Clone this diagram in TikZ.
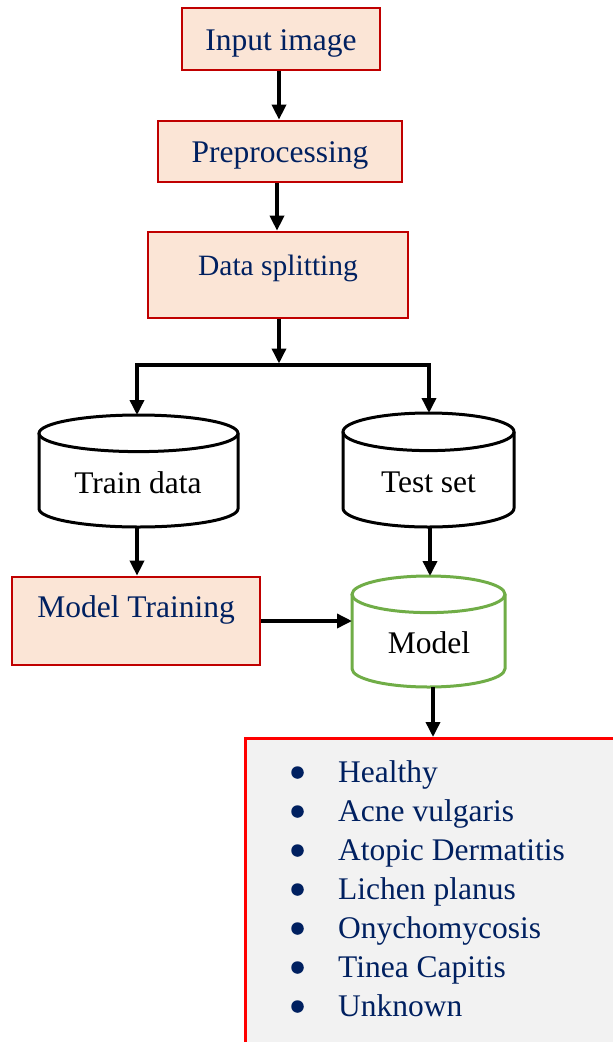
\documentclass[tikz,border=0pt]{standalone}
\usepackage{fontspec}
\setmainfont{Liberation Serif}
\usetikzlibrary{arrows.meta, calc}

\definecolor{peach}{HTML}{FBE5D6}
\definecolor{boxred}{HTML}{C00000}
\definecolor{listred}{HTML}{FF0000}
\definecolor{navy}{HTML}{002060}
\definecolor{listfill}{HTML}{F2F2F2}
\definecolor{modelgreen}{HTML}{70AD47}

\tikzset{
  flow/.style={line width=3.5pt, line join=miter, -{Triangle[width=14pt,length=15pt]}},
  procbox/.style={rectangle, draw=boxred, fill=peach, line width=2.7pt, inner sep=0pt},
  proctext/.style={anchor=base, inner sep=0pt, text=navy, font=\fontsize{31.5}{38}\selectfont},
  drumtext/.style={anchor=base, inner sep=0pt, text=black, font=\fontsize{31.5}{38}\selectfont},
  drumline/.style={line width=3pt},
  listbox/.style={rectangle, draw=listred, fill=listfill, line width=2.7pt, inner sep=0pt},
  listtext/.style={anchor=base west, inner sep=0pt, text=navy, font=\fontsize{31.5}{38}\selectfont},
  listdot/.style={circle, fill=navy, minimum size=12.5pt, inner sep=0pt},
}

% a drum (cylinder): #1 colour, #2 centre x, #3 top y, #4 bottom y, #5 x radius, #6 y radius
\newcommand\drumshape[6]{%
  \draw[drumline, draw=#1, fill=white]
    (#2-#5,-#3-#6) -- (#2-#5,-#4+#6)
    arc[start angle=180, end angle=360, x radius=#5pt, y radius=#6pt]
    -- (#2+#5,-#3-#6);
  \draw[drumline, draw=#1] (#2,-#3-#6) ellipse[x radius=#5pt, y radius=#6pt];
}

\begin{document}
\begin{tikzpicture}[x=1pt, y=1pt]
  \useasboundingbox (0,0) rectangle (613,-1042);
  \clip (0,0) rectangle (613,-1042);

  % processing steps
  \node[procbox, minimum width=198pt, minimum height=62pt] (input) at (281,-39) {};
  \node[proctext] (inputt) at (281,-50) {Input image};

  \node[procbox, minimum width=244pt, minimum height=61pt] (pre) at (280,-151.5) {};
  \node[proctext] (pret) at (280,-162) {Preprocessing};

  \node[procbox, minimum width=260pt, minimum height=86pt] (split) at (278,-275) {};
  \node[proctext, font=\fontsize{29.5}{36}\selectfont] (splitt) at (278,-275) {Data splitting};

  \node[procbox, minimum width=248pt, minimum height=88pt] (train) at (136,-621) {};
  \node[proctext] (traint) at (136,-617) {Model Training};

  % data stores and model
  \drumshape{black}{138.5}{415}{527}{99.5}{18.3}
  \node[drumtext] (traindata) at (138,-493) {Train data};
  \coordinate (traindataN) at (137,-415);
  \coordinate (traindataS) at (137,-527);

  \drumshape{black}{428.5}{413}{527}{85.5}{18.8}
  \node[drumtext] (testset) at (428.5,-492) {Test set};
  \coordinate (testsetN) at (429,-413);
  \coordinate (testsetS) at (430,-527);

  \drumshape{modelgreen}{428.5}{576}{687}{76.5}{18.3}
  \node[drumtext] (model) at (429,-653) {Model};
  \coordinate (modelN) at (430,-576);
  \coordinate (modelW) at (352,-621);
  \coordinate (modelS) at (433,-687);

  % output classes
  \node[listbox, anchor=north west, minimum width=420pt, minimum height=340pt] (classes) at (244,-737) {};
  \foreach \cls [count=\i] in {Healthy, Acne vulgaris, Atopic Dermatitis, Lichen planus, Onychomycosis, Tinea Capitis, Unknown} {
    \node[listdot] (dot\i) at (297.5,{-772.5-39*(\i-1)}) {};
    \node[listtext] (cls\i) at (338,{-782-39*(\i-1)}) {\cls};
  }

  % connectors
  \draw[flow] (input.south -| 279,0) -- (pre.north -| 279,0);
  \draw[flow] (pre.south -| 277,0) -- (split.north -| 277,0);
  \coordinate (junc) at (279,-365);
  \draw[flow, shorten >=1.5pt] (split.south -| junc) -- (junc);
  \draw[line width=3.5pt, line join=miter, {Triangle[width=14pt,length=15pt]}-{Triangle[width=14pt,length=15pt]}]
    (traindataN) |- (junc) -| (testsetN);
  \draw[flow] (traindataS) -- (traindataS |- train.north);
  \draw[flow] (testsetS) -- (modelN);
  \draw[flow] (train.east) -- (modelW);
  \draw[flow] (modelS) -- (modelS |- classes.north);
\end{tikzpicture}
\end{document}
